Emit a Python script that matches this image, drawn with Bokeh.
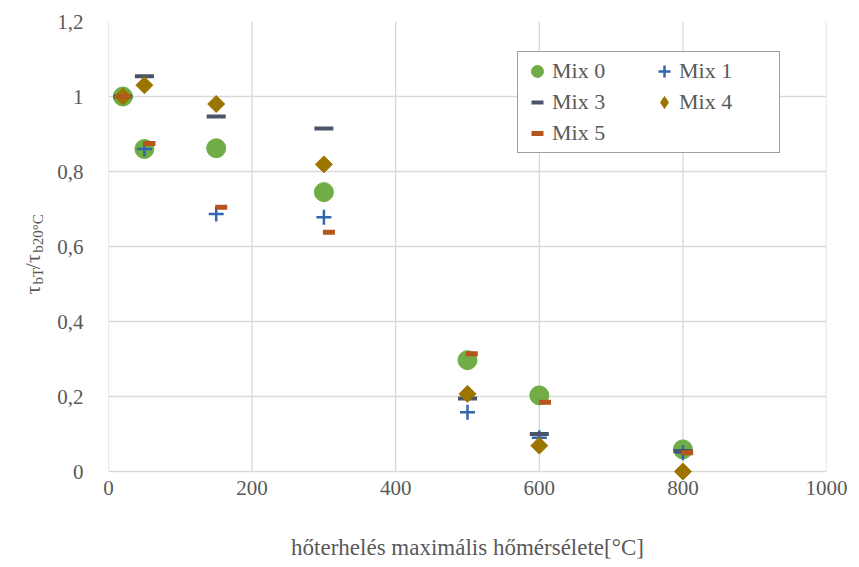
import numpy as np
from bokeh.plotting import figure
from bokeh.models import Range1d, FixedTicker, Legend, LegendItem, Label
from bokeh.embed import file_html
from bokeh.resources import INLINE

# ---- data ----
x_ticks = [0, 200, 400, 600, 800, 1000]
y_ticks = [0, 0.2, 0.4, 0.6, 0.8, 1.0, 1.2]
y_tick_labels = ["0", "0,2", "0,4", "0,6", "0,8", "1", "1,2"]

mix0_x = [20, 50, 150, 300, 500, 600, 800]
mix0_y = [1.0, 0.86, 0.862, 0.745, 0.297, 0.203, 0.059]
mix1_x = [20, 50, 150, 300, 500, 600, 800]
mix1_y = [1.0, 0.86, 0.687, 0.678, 0.158, 0.09, 0.05]
mix3_x = [20, 50, 150, 300, 500, 600, 800]
mix3_y = [1.0, 1.054, 0.947, 0.915, 0.195, 0.10, 0.055]
mix4_x = [20, 50, 150, 300, 500, 600, 800]
mix4_y = [1.0, 1.03, 0.98, 0.819, 0.207, 0.069, 0.0]
mix5_x = [20, 57, 157, 307, 506, 608, 806]
mix5_y = [1.0, 0.875, 0.705, 0.638, 0.314, 0.185, 0.05]

FONT = "Liberation Serif"
TXT = "#595959"
GRID = "#D9D9D9"

# small extra room below 0 so the markers sitting on the zero line are not cut
p = figure(width=859, height=567, output_backend="svg", toolbar_location=None,
           x_range=Range1d(0, 1000), y_range=Range1d(-0.024, 1.2),
           min_border_left=108, min_border_right=33, min_border_top=21,
           min_border_bottom=87)
p.outline_line_color = None
p.background_fill_color = "white"

p.xaxis.ticker = FixedTicker(ticks=x_ticks)
p.yaxis.ticker = FixedTicker(ticks=y_ticks)
p.yaxis.major_label_overrides = {t: l for t, l in zip(y_ticks, y_tick_labels)}
for ax in (p.xaxis[0], p.yaxis[0]):
    ax.axis_line_color = None
    ax.major_tick_line_color = None
    ax.minor_tick_line_color = None
    ax.major_tick_out = 0
    ax.major_tick_in = 0
    ax.minor_tick_out = 0
    ax.minor_tick_in = 0
    ax.major_label_text_font = FONT
    ax.major_label_text_font_size = "21px"
    ax.major_label_text_color = TXT
p.xaxis.major_label_standoff = 0
p.yaxis.major_label_standoff = 25
p.xaxis.axis_label = "hőterhelés maximális hőmérsélete[°C]"
p.xaxis.axis_label_text_font = FONT
p.xaxis.axis_label_text_font_size = "23px"
p.xaxis.axis_label_text_font_style = "normal"
p.xaxis.axis_label_text_color = TXT
p.xaxis.axis_label_standoff = 37

# grid: horizontal via the grid model, vertical lines only between 0 and 1.2
p.xgrid.grid_line_color = None
p.ygrid.grid_line_color = GRID
p.ygrid.grid_line_width = 1.3
p.segment(x0=x_ticks, y0=[y_ticks[0]] * len(x_ticks), x1=x_ticks,
          y1=[y_ticks[-1]] * len(x_ticks), line_color=GRID, line_width=1.3,
          level="underlay")

C0, C1, C3, C4, C5 = "#70AD47", "#3366AA", "#4A5568", "#9C7400", "#B5561C"
r0 = p.scatter(mix0_x, mix0_y, marker="circle", size=19, fill_color=C0,
               line_color=C0)
r1 = p.scatter(mix1_x, mix1_y, marker="cross", size=15, line_color=C1,
               line_width=2.5)
r3 = p.scatter(mix3_x, mix3_y, marker="dash", size=19, line_color=C3,
               line_width=4)
r4 = p.scatter(mix4_x, mix4_y, marker="square", angle=np.pi / 4, size=12,
               fill_color=C4, line_color=C4)
r5 = p.scatter(mix5_x, mix5_y, marker="dash", size=12, line_color=C5,
               line_width=5)
# legend-only glyph for Mix 4 (diamond shape in the legend; no visible point)
r4_leg = p.scatter(x=np.array([np.nan]), y=np.array([np.nan]), marker="diamond",
                   fill_color=C4, line_color=C4)

legend = Legend(items=[
    LegendItem(label="Mix 0", renderers=[r0]),
    LegendItem(label="Mix 3", renderers=[r3]),
    LegendItem(label="Mix 5", renderers=[r5]),
    LegendItem(label="Mix 1", renderers=[r1]),
    LegendItem(label="Mix 4", renderers=[r4_leg]),
], ncols=2)
legend.location = (409, 327)
legend.label_text_font = FONT
legend.label_text_font_size = "22px"
legend.label_text_color = TXT
legend.glyph_width = 30
legend.glyph_height = 30
legend.label_standoff = 0
legend.label_width = 96
legend.label_height = 30
legend.spacing = 1
legend.padding = 4
legend.margin = 0
legend.border_line_color = "#404040"
legend.border_line_width = 1.5
legend.background_fill_alpha = 1
p.add_layout(legend, "center")

# y-axis label: main text and subscripts as two rotated labels
def dx(px):
    return (px - 108) / 0.718

def dy(py):
    return (471 - py) / 375

NB = "\u00a0"
y_label_main = "τ" + NB * 3 + "/τ"
y_label_sub = "bT" + NB * 4 + "b20°C"
p.add_layout(Label(x=dx(32), y=dy(294), text=y_label_main, angle=np.pi / 2,
                   text_font=FONT, text_font_size="22px", text_color=TXT,
                   text_align="left", text_baseline="alphabetic"), "left")
p.add_layout(Label(x=dx(37), y=dy(284), text=y_label_sub, angle=np.pi / 2,
                   text_font=FONT, text_font_size="15px", text_color=TXT,
                   text_align="left", text_baseline="alphabetic"), "left")

open("out.html", "w").write(file_html(p, INLINE))
